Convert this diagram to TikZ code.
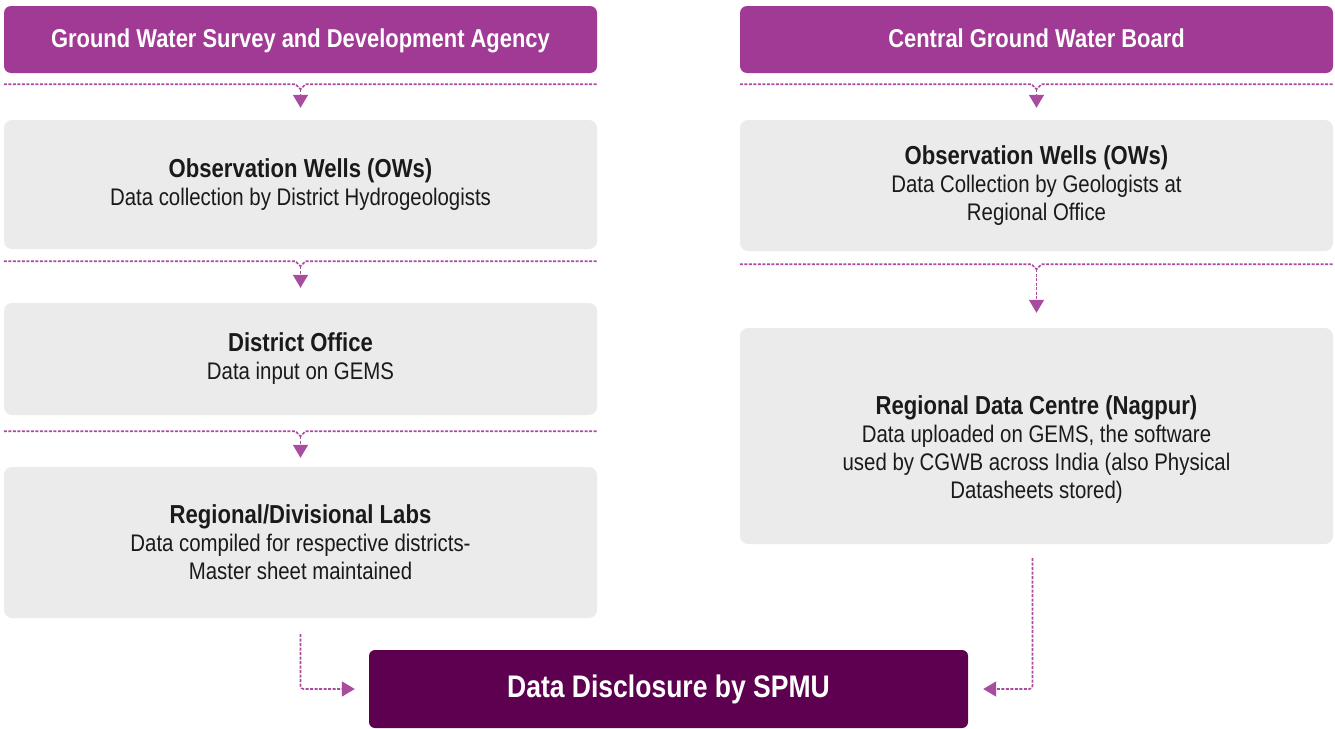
\documentclass[tikz,border=0pt]{standalone}
\usepackage{fontspec}
\setmainfont{Liberation Sans}[FakeStretch=0.85]
\usetikzlibrary{arrows.meta,calc,positioning}
\definecolor{hdrpurple}{HTML}{A03A94}
\definecolor{linepurple}{HTML}{A84CA0}
\definecolor{boxgray}{HTML}{EBEBEB}
\definecolor{spmupurple}{HTML}{5E0050}
\definecolor{boxtext}{HTML}{1A1A1A}
\tikzset{
  hdrbox/.style={fill=hdrpurple, rounded corners=7pt, minimum width=593pt, minimum height=67pt,
    text=white, text depth=3pt, font=\bfseries\fontsize{25.8}{30}\selectfont},
  infobox/.style={fill=boxgray, rounded corners=8pt, minimum width=593pt, align=center,
    text=boxtext, font=\fontsize{24}{28}\selectfont},
  infotext/.style={align=center, text=boxtext, font=\fontsize{24}{28}\selectfont},
  splitline/.style={linepurple, line width=1.6pt, dash pattern=on 3pt off 1.5pt},
  drop/.style={splitline, -{Triangle[width=15pt,length=13pt]}},
}
\newcommand\ttl[1]{{\bfseries\fontsize{26}{30}\selectfont #1}}
% dashed split line under a box, with a drop arrow to the next box
\newcommand\splitdrop[4]{%
  \path (#1.south) ++(0,#3) coordinate (#1-k);
  \draw[splitline] (#1-k -| #1.west) -- ($(#1-k)+(-5,0)$) -- ($(#1-k)+(0,5)$)
    -- ($(#1-k)+(5,0)$) -- (#1-k -| #1.east);
  \draw[drop] ($(#1-k)+(0,5)$) -- ($(#2.north)+(0,-#4)$);
}
\begin{document}
\begin{tikzpicture}[x=1pt,y=-1pt]
  \useasboundingbox (0,0) rectangle (1335,728);

  % left column
  \node[hdrbox] (gwsda) at (300.5,39.5) {Ground Water Survey and Development Agency};
  \node[infobox, minimum height=129pt] (owl) at (300.5,184.5)
    {\ttl{Observation Wells (OWs)}\\Data collection by District Hydrogeologists};
  \node[infobox, minimum height=112pt] (dol) at (300.5,359)
    {\ttl{District Office}\\Data input on GEMS};
  \node[infobox, minimum height=151pt] (labs) at (300.5,542.5)
    {\ttl{Regional/Divisional Labs}\\Data compiled for respective districts-\\Master sheet maintained};

  % right column
  \node[hdrbox] (cgwb) at (1036.5,39.5) {Central Ground Water Board};
  \node[infobox, minimum height=131pt] (owr) at (1036.5,185.5)
    {\ttl{Observation Wells (OWs)}\\Data Collection by Geologists at\\Regional Office};
  \node[infobox, minimum height=216pt] (rdc) at (1036.5,436) {};
  \node[infotext] (rdctxt) at ($(rdc.center)+(0,14)$)
    {\ttl{Regional Data Centre (Nagpur)}\\Data uploaded on GEMS, the software\\
     used by CGWB across India (also Physical\\Datasheets stored)};

  % bottom
  \node[fill=spmupurple, rounded corners=6pt, minimum width=599pt, minimum height=78pt,
    text=white, font=\bfseries\fontsize{31.2}{36}\selectfont] (spmu) at (668.5,689)
    {Data Disclosure by SPMU};

  % connectors
  \splitdrop{gwsda}{owl}{11}{12}
  \splitdrop{owl}{dol}{12}{15}
  \splitdrop{dol}{labs}{16}{9}
  \splitdrop{cgwb}{owr}{11}{12}
  \splitdrop{owr}{rdc}{13}{15}
  \draw[drop, rounded corners=3pt] ($(labs.south)+(0,16)$) |- ($(spmu.west)+(-14,0)$);
  \draw[drop, rounded corners=3pt] ($(rdc.south)+(-4,14)$) |- ($(spmu.east)+(15,0)$);
\end{tikzpicture}
\end{document}
